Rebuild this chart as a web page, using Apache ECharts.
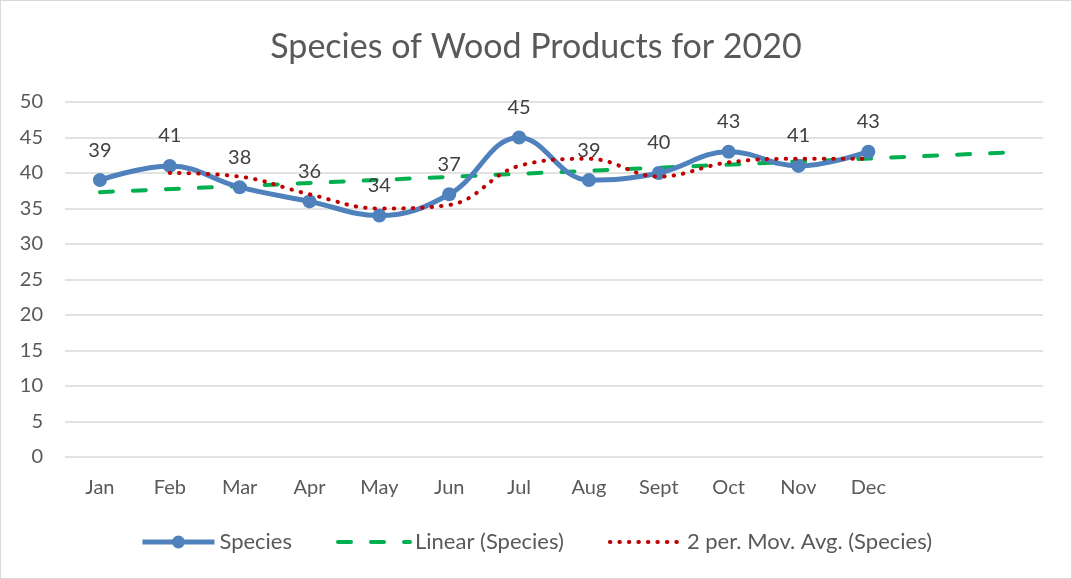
<!DOCTYPE html>
<html>
<head>
<meta charset="utf-8">
<script src="https://cdn.jsdelivr.net/npm/echarts@6/dist/echarts.min.js"></script>
<style>
  html, body { margin: 0; padding: 0; background: #fff; }
  #chart { width: 1072px; height: 579px; box-sizing: border-box; border: 1px solid #d9d9d9; }
</style>
</head>
<body>
<div id="chart"></div>
<script>
// 月份（后两个为趋势线向前预测留出的空位）
var months = ["Jan", "Feb", "Mar", "Apr", "May", "Jun", "Jul", "Aug", "Sept", "Oct", "Nov", "Dec", "", ""];
var species = [39, 41, 38, 36, 34, 37, 45, 39, 40, 43, 41, 43];
// 线性趋势线：只读两端
var linearTrend = [37.3, null, null, null, null, null, null, null, null, null, null, null, null, 42.9];
// 2 期移动平均
var movAvg = [null, 40, 39.5, 37, 35, 35.5, 41, 42, 39.5, 41.5, 42, 42];
var yTicks = { min: 0, max: 50, interval: 5 };

var font = "Lato, 'Open Sans', sans-serif";
var blue = "#4f81bd", green = "#00b050", red = "#c00000";
var myChart = echarts.init(document.getElementById("chart"));
var option = {
  animation: false,
  textStyle: { fontFamily: font },
  title: {
    text: "Species of Wood Products for 2020",
    left: "center",
    top: 24,
    textStyle: { fontSize: 34, fontWeight: "normal", color: "#595959", fontFamily: font }
  },
  grid: { left: 64, right: 28, top: 101, bottom: 121 },
  legend: {
    bottom: 20,
    left: "center",
    itemWidth: 72,
    itemHeight: 16,
    itemGap: 44,
    textStyle: { fontSize: 22, color: "#595959", fontFamily: font },
    data: [
      { name: "Species", lineStyle: { width: 5 } },
      { name: "Linear (Species)", itemStyle: { opacity: 0 }, lineStyle: { width: 4 } },
      { name: "2 per. Mov. Avg. (Species)", itemStyle: { opacity: 0 }, lineStyle: { width: 4 } }
    ]
  },
  xAxis: {
    type: "category",
    data: months,
    boundaryGap: true,
    axisLine: { show: false },
    axisTick: { show: false },
    axisLabel: { fontSize: 20, color: "#595959", margin: 21, fontFamily: font }
  },
  yAxis: {
    type: "value",
    min: yTicks.min,
    max: yTicks.max,
    interval: yTicks.interval,
    axisLine: { show: false },
    axisTick: { show: false },
    axisLabel: { fontSize: 20, color: "#595959", margin: 22, fontFamily: font },
    splitLine: { lineStyle: { color: "#d9d9d9", width: 1.5 } }
  },
  series: [
    {
      name: "Species",
      type: "line",
      data: species,
      smooth: 0.4,
      symbol: "circle",
      symbolSize: 14,
      z: 3,
      itemStyle: { color: blue },
      lineStyle: { color: blue, width: 5 },
      label: {
        show: true,
        position: "top",
        distance: 13,
        fontSize: 20,
        color: "#404040",
        fontFamily: font
      }
    },
    {
      name: "Linear (Species)",
      type: "line",
      data: linearTrend,
      connectNulls: true,
      symbol: "none",
      z: 2,
      itemStyle: { color: green },
      lineStyle: { color: green, width: 4, type: [13, 20], cap: "round" }
    },
    {
      name: "2 per. Mov. Avg. (Species)",
      type: "line",
      data: movAvg,
      smooth: 0.4,
      symbol: "none",
      z: 4,
      itemStyle: { color: red },
      lineStyle: { color: red, width: 4, type: [0.5, 9], cap: "round" }
    }
  ]
};
myChart.setOption(option);
</script>
</body>
</html>
